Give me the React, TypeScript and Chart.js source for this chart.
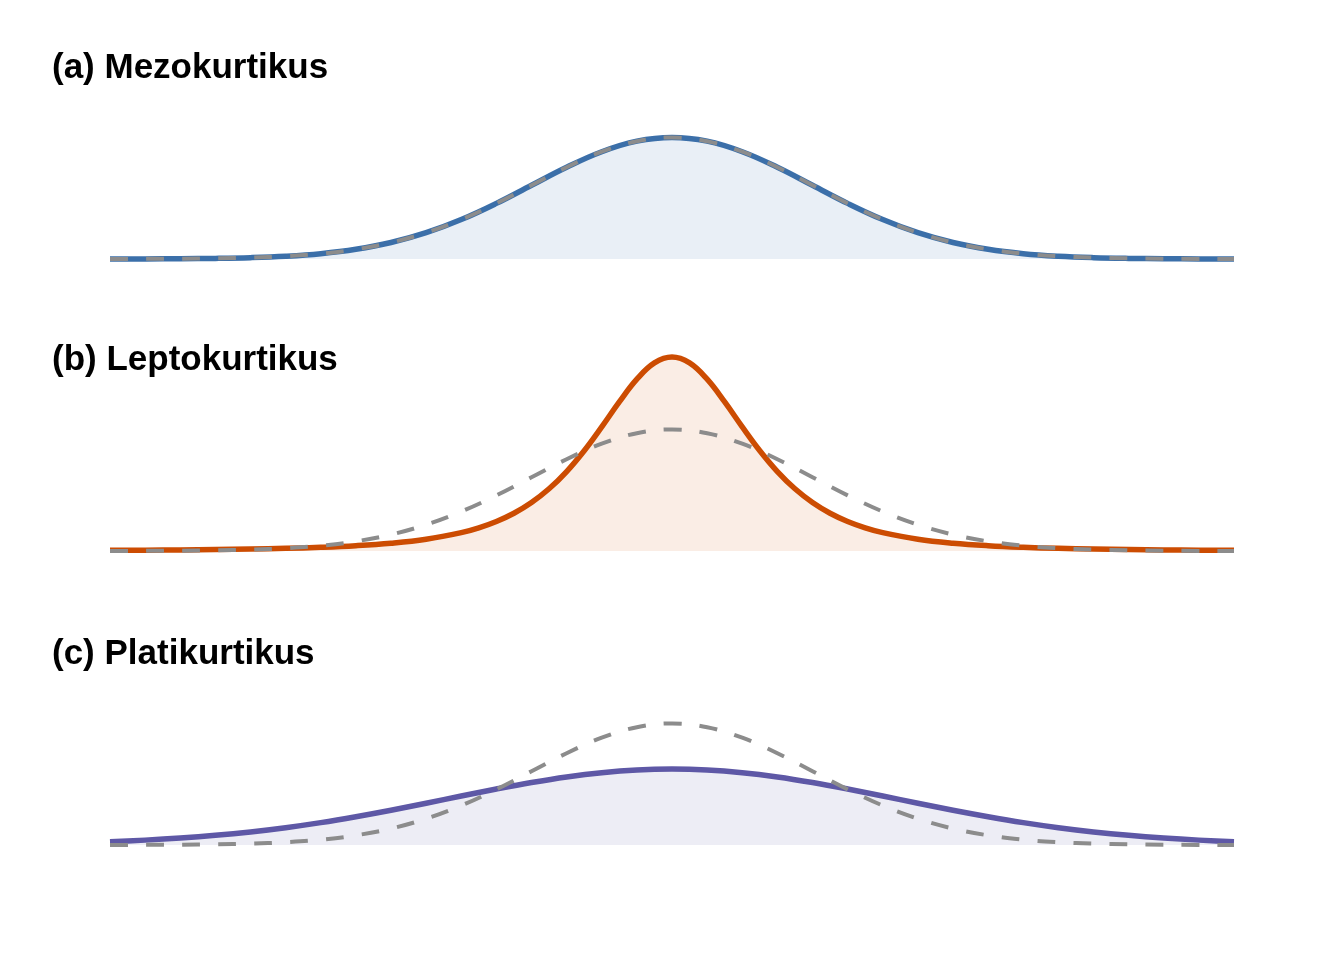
import React, { useEffect, useRef } from "react";
import { Chart, registerables } from "chart.js";

Chart.register(...registerables);

// x positions (standardised units)
const xs = [
  -4, -3.75, -3.5, -3.25, -3, -2.75, -2.5, -2.25, -2, -1.75, -1.5, -1.25, -1, -0.75, -0.5, -0.25,
  0, 0.25, 0.5, 0.75, 1, 1.25, 1.5, 1.75, 2, 2.25, 2.5, 2.75, 3, 3.25, 3.5, 3.75, 4,
];

// finer x positions for the peaked curve
const xsLepto = [
  -4, -3.75, -3.5, -3.25, -3, -2.75, -2.5, -2.25, -2, -1.75, -1.5, -1.375, -1.25, -1.125, -1,
  -0.875, -0.75, -0.625, -0.5, -0.375, -0.25, -0.125, 0, 0.125, 0.25, 0.375, 0.5, 0.625, 0.75,
  0.875, 1, 1.125, 1.25, 1.375, 1.5, 1.75, 2, 2.25, 2.5, 2.75, 3, 3.25, 3.5, 3.75, 4,
];

// dashed reference curve (normal)
const normalRef = [
  0.0001, 0.0004, 0.0009, 0.002, 0.0044, 0.0091, 0.0175, 0.0317, 0.054, 0.0863, 0.1295, 0.1826,
  0.242, 0.3011, 0.3521, 0.3867, 0.3989, 0.3867, 0.3521, 0.3011, 0.242, 0.1826, 0.1295, 0.0863,
  0.054, 0.0317, 0.0175, 0.0091, 0.0044, 0.002, 0.0009, 0.0004, 0.0001,
];

// (a) mesokurtic curve
const mezo = [
  0.0001, 0.0004, 0.0009, 0.002, 0.0044, 0.0091, 0.0175, 0.0317, 0.054, 0.0863, 0.1295, 0.1826,
  0.242, 0.3011, 0.3521, 0.3867, 0.3989, 0.3867, 0.3521, 0.3011, 0.242, 0.1826, 0.1295, 0.0863,
  0.054, 0.0317, 0.0175, 0.0091, 0.0044, 0.002, 0.0009, 0.0004, 0.0001,
];

// (b) leptokurtic curve (on xsLepto)
const lepto = [
  0.0022, 0.0028, 0.0036, 0.0048, 0.0064, 0.0087, 0.0121, 0.0173, 0.0255, 0.0386, 0.0603, 0.0762,
  0.097, 0.124, 0.1592, 0.2042, 0.2608, 0.3292, 0.4074, 0.4893, 0.5639, 0.6172, 0.6366, 0.6172,
  0.5639, 0.4893, 0.4074, 0.3292, 0.2608, 0.2042, 0.1592, 0.124, 0.097, 0.0762, 0.0603, 0.0386,
  0.0255, 0.0173, 0.0121, 0.0087, 0.0064, 0.0048, 0.0036, 0.0028, 0.0022,
];

// (c) platykurtic curve
const platy = [
  0.011, 0.016, 0.0228, 0.0317, 0.043, 0.0569, 0.0735, 0.0928, 0.1141, 0.1371, 0.1607, 0.1838,
  0.2051, 0.2234, 0.2374, 0.2463, 0.2493, 0.2463, 0.2374, 0.2234, 0.2051, 0.1838, 0.1607, 0.1371,
  0.1141, 0.0928, 0.0735, 0.0569, 0.043, 0.0317, 0.0228, 0.016, 0.011,
];

const titles = ["(a) Mezokurtikus", "(b) Leptokurtikus", "(c) Platikurtikus"];
const lineColors = ["#3b6fa9", "#cc4c02", "#5e58a6"];
const fillColors = ["rgba(59,111,169,0.11)", "rgba(204,76,2,0.1)", "rgba(94,88,166,0.11)"];
const panelSeries = [mezo, lepto, platy];
const panelXs = [xs, xsLepto, xs];

const titlePlugin = {
  id: "panelTitle",
  afterDraw(chart: any, _args: any, opts: any) {
    const ctx = chart.ctx;
    ctx.save();
    ctx.font = "bold 35px 'Liberation Sans', Arial, Helvetica, sans-serif";
    ctx.fillStyle = "#000000";
    ctx.textBaseline = "middle";
    ctx.textAlign = "left";
    ctx.fillText(opts.text, 52, 68);
    ctx.restore();
  },
};

const toPoints = (xv: number[], arr: number[]) => xv.map((x, i) => ({ x, y: arr[i] }));

function Panel({ idx, top, height }: { idx: number; top: number; height: number }) {
  const ref = useRef<HTMLCanvasElement | null>(null);
  useEffect(() => {
    if (!ref.current) return;
    const chart = new Chart(ref.current, {
      type: "line",
      data: {
        datasets: [
          {
            data: toPoints(xs, normalRef),
            borderColor: "#8c8c8c",
            borderWidth: 4,
            borderDash: [18, 18],
            borderCapStyle: "butt",
            pointRadius: 0,
            fill: false,
            tension: 0.4,
            clip: false,
          } as any,
          {
            data: toPoints(panelXs[idx], panelSeries[idx]),
            borderColor: lineColors[idx],
            borderWidth: 5.5,
            backgroundColor: fillColors[idx],
            pointRadius: 0,
            fill: "origin",
            tension: 0.4,
            clip: false,
          } as any,
        ],
      },
      options: {
        responsive: false,
        animation: false,
        events: [],
        layout: { padding: { left: 110, right: 110, top: 0, bottom: height - 259 } },
        scales: {
          x: { type: "linear", min: -4, max: 4, display: false },
          y: { type: "linear", min: 0, max: 0.85, display: false },
        },
        plugins: {
          legend: { display: false },
          tooltip: { enabled: false },
          title: { display: false },
          panelTitle: { text: titles[idx] },
        } as any,
      },
      plugins: [titlePlugin],
    });
    return () => chart.destroy();
  }, [idx, height]);
  return (
    <canvas
      ref={ref}
      width={1344}
      height={height}
      style={{ position: "absolute", left: 0, top, width: 1344, height }}
    />
  );
}

export default function App() {
  return (
    <div
      style={{
        position: "absolute",
        left: 0,
        top: 0,
        width: 1344,
        height: 960,
        background: "#ffffff",
      }}
    >
      <Panel idx={0} top={0} height={292} />
      <Panel idx={1} top={292} height={294} />
      <Panel idx={2} top={586} height={374} />
    </div>
  );
}
